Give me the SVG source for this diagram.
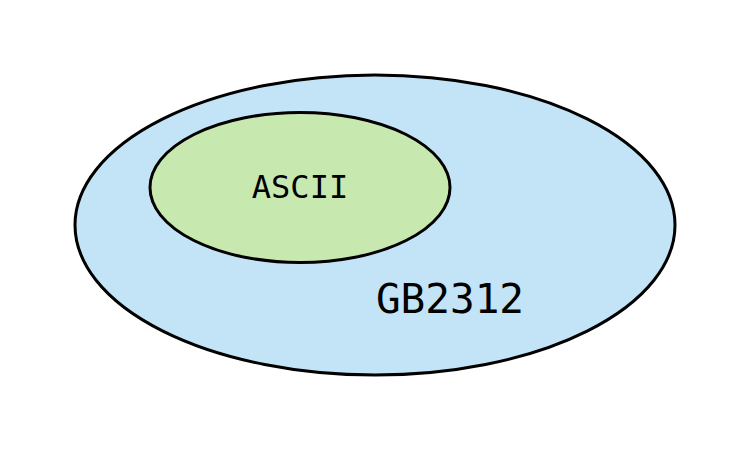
<svg xmlns="http://www.w3.org/2000/svg" width="750" height="450" viewBox="0 0 750 450">
<style>
.e{stroke:#000;stroke-width:3}
.t{font-family:"DejaVu Sans Mono",monospace;fill:#000;text-anchor:middle}
</style>
<rect width="750" height="450" fill="#fff"/>
<g id="gb2312">
<ellipse class="e" cx="375" cy="225" rx="300" ry="150" fill="#c3e4f6"/>
<text class="t" x="450" y="313" font-size="41">GB2312</text>
</g>
<g id="ascii">
<ellipse class="e" cx="300" cy="187.5" rx="150" ry="75" fill="#c7e8af"/>
<text class="t" x="300" y="197.5" font-size="32">ASCII</text>
</g>
<g id="connectors"/>
</svg>
